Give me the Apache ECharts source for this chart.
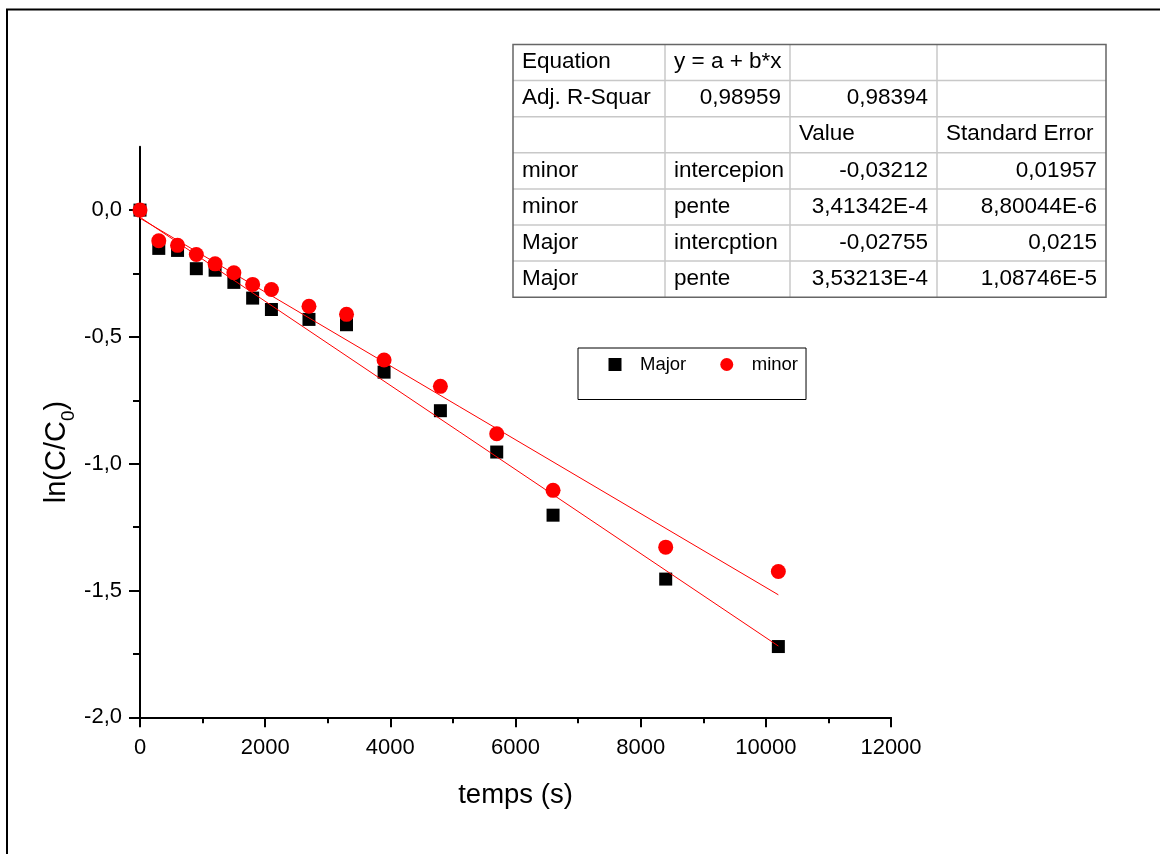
<!DOCTYPE html>
<html>
<head>
<meta charset="utf-8">
<script src="https://cdn.jsdelivr.net/npm/echarts@6/dist/echarts.min.js"></script>
<style>
html,body{margin:0;padding:0;background:#fff;}
#chart{width:1160px;height:854px;}
</style>
</head>
<body>
<div id="chart"></div>
<script>
// ---- data ----
var timeValues = [0, 300, 600, 900, 1200, 1500, 1800, 2100, 2700, 3300, 3900, 4800, 5700, 6600, 8400, 10200];
var majorValues = [0, -0.151, -0.159, -0.231, -0.237, -0.285, -0.347, -0.392, -0.431, -0.452, -0.639, -0.791, -0.954, -1.203, -1.455, -1.721];
var minorValues = [0, -0.121, -0.139, -0.175, -0.212, -0.247, -0.293, -0.313, -0.379, -0.411, -0.591, -0.695, -0.882, -1.105, -1.329, -1.425];
var fitMajorX = [0, 10200];
var fitMajorY = [-0.028, -1.719];
var fitMinorX = [0, 10200];
var fitMinorY = [-0.032, -1.517];
var yTickValues = [-2, -1.5, -1, -0.5, 0];
var seriesNames = ['Major', 'minor'];
var tableHeader = ['Equation', 'y = a + b*x', '', ''];
var tableRowR2 = ['Adj. R-Squar', '0,98959', '0,98394', ''];
var tableRowHead = ['', '', 'Value', 'Standard Error'];
var tableRowMinorA = ['minor', 'intercepion', '-0,03212', '0,01957'];
var tableRowMinorB = ['minor', 'pente', '3,41342E-4', '8,80044E-6'];
var tableRowMajorA = ['Major', 'intercption', '-0,02755', '0,0215'];
var tableRowMajorB = ['Major', 'pente', '3,53213E-4', '1,08746E-5'];
var tableRows = [tableHeader, tableRowR2, tableRowHead, tableRowMinorA, tableRowMinorB, tableRowMajorA, tableRowMajorB];

function zip(xs, ys) { return xs.map(function (x, i) { return [x, ys[i]]; }); }

// ---- table graphics ----
var FONT = '"Liberation Sans", Arial, sans-serif';
var tX = 513, tY = 44.5, colEdges = [513, 665, 790, 937, 1106], rowH = 36.1;
var tableEls = [];
tableEls.push({type: 'rect', shape: {x: tX, y: tY, width: colEdges[4] - tX, height: rowH * 7}, style: {fill: '#fff', stroke: null}, z: 10});
for (var r = 1; r < 7; r++) {
  tableEls.push({type: 'line', shape: {x1: tX, y1: tY + r * rowH, x2: colEdges[4], y2: tY + r * rowH}, style: {stroke: '#c8c8c8', lineWidth: 1.5}, z: 11});
}
for (var c = 1; c < 4; c++) {
  tableEls.push({type: 'line', shape: {x1: colEdges[c], y1: tY, x2: colEdges[c], y2: tY + 7 * rowH}, style: {stroke: '#c8c8c8', lineWidth: 1.5}, z: 11});
}
tableEls.push({type: 'rect', shape: {x: tX, y: tY, width: colEdges[4] - tX, height: rowH * 7}, style: {fill: null, stroke: '#666', lineWidth: 1.5}, z: 12});
tableRows.forEach(function (row, ri) {
  row.forEach(function (txt, ci) {
    if (!txt) return;
    var numeric = /^-?\d/.test(txt);
    tableEls.push({
      type: 'text', z: 13,
      x: numeric ? colEdges[ci + 1] - 9 : colEdges[ci] + 9,
      y: tY + ri * rowH + rowH / 2 - 0.5,
      style: {text: txt, font: '22.5px ' + FONT, fill: '#000', align: numeric ? 'right' : 'left', verticalAlign: 'middle'}
    });
  });
});

var chart = echarts.init(document.getElementById('chart'), null, {renderer: 'canvas'});
var option = {
  backgroundColor: '#fff',
  animation: false,
  textStyle: {fontFamily: FONT},
  grid: {left: 140, right: 269, top: 146.7, bottom: 136.7, containLabel: false},
  legend: {
    left: 578, top: 348,
    orient: 'horizontal',
    borderColor: '#000', borderWidth: 1,
    padding: [7, 8, 25.5, 30.5],
    itemWidth: 40, itemHeight: 13, itemGap: 34,
    textStyle: {fontSize: 18.5, color: '#000', fontFamily: FONT, lineHeight: 13},
    data: [
      {name: seriesNames[0], icon: 'path://M0 0H10V10H0Z', itemStyle: {opacity: 1}},
      {name: seriesNames[1], icon: 'circle', itemStyle: {opacity: 1}}
    ]
  },
  xAxis: {
    type: 'value', min: 0, max: 12000, interval: 2000,
    name: 'temps (s)', nameLocation: 'middle', nameGap: 64,
    nameTextStyle: {fontSize: 27.5, color: '#000', fontFamily: FONT},
    axisLine: {show: true, onZero: false, lineStyle: {color: '#000', width: 2}},
    axisTick: {show: true, inside: false, length: 10, lineStyle: {color: '#000', width: 2}},
    minorTick: {show: true, splitNumber: 2, length: 6, lineStyle: {color: '#000', width: 2}},
    axisLabel: {fontSize: 22, color: '#000', margin: 20, fontFamily: FONT,
      formatter: function (v) { return String(v); }},
    splitLine: {show: false}, minorSplitLine: {show: false}
  },
  yAxis: {
    type: 'value', min: -2, max: 0.25, interval: 0.5,
    axisLine: {show: true, onZero: false, lineStyle: {color: '#000', width: 2}},
    axisTick: {show: true, inside: false, length: 11, customValues: yTickValues, lineStyle: {color: '#000', width: 2}},
    minorTick: {show: true, splitNumber: 2, length: 7, lineStyle: {color: '#000', width: 2}},
    axisLabel: {fontSize: 22, color: '#000', margin: 18, fontFamily: FONT, customValues: yTickValues,
      formatter: function (v) { return v.toFixed(1).replace('.', ','); }},
    splitLine: {show: false}, minorSplitLine: {show: false}
  },
  graphic: [
    {type: 'rect', shape: {x: 7, y: 9.5, width: 1300, height: 1000}, style: {fill: null, stroke: '#000', lineWidth: 2}, z: 20}
  ].concat(tableEls).concat([
    {
      type: 'text', x: 56, y: 452, rotation: Math.PI / 2, z: 13,
      style: {
        text: '{a|ln(C/C}{b|0}{a|)}',
        align: 'center', verticalAlign: 'middle',
        rich: {
          a: {fontSize: 29, fontFamily: FONT, fill: '#000', lineHeight: 30, verticalAlign: 'bottom'},
          b: {fontSize: 19, fontFamily: FONT, fill: '#000', lineHeight: 30, verticalAlign: 'bottom', padding: [0, 0, -7, 0]}
        }
      }
    }
  ]),
  series: [
    {
      name: seriesNames[0], type: 'scatter', symbol: 'rect', symbolSize: 13,
      itemStyle: {color: '#000', opacity: 1}, data: zip(timeValues, majorValues), z: 2
    },
    {
      name: seriesNames[1], type: 'scatter', symbol: 'circle', symbolSize: 15,
      itemStyle: {color: '#ff0000', opacity: 1}, data: zip(timeValues, minorValues), z: 3
    },
    {
      name: 'fitMinor', type: 'line', data: zip(fitMinorX, fitMinorY), showSymbol: false, symbol: 'none',
      lineStyle: {color: '#ff0000', width: 1}, z: 4, silent: true
    },
    {
      name: 'fitMajor', type: 'line', data: zip(fitMajorX, fitMajorY), showSymbol: false, symbol: 'none',
      lineStyle: {color: '#ff0000', width: 1}, z: 4, silent: true
    }
  ]
};
chart.setOption(option);
</script>
</body>
</html>
